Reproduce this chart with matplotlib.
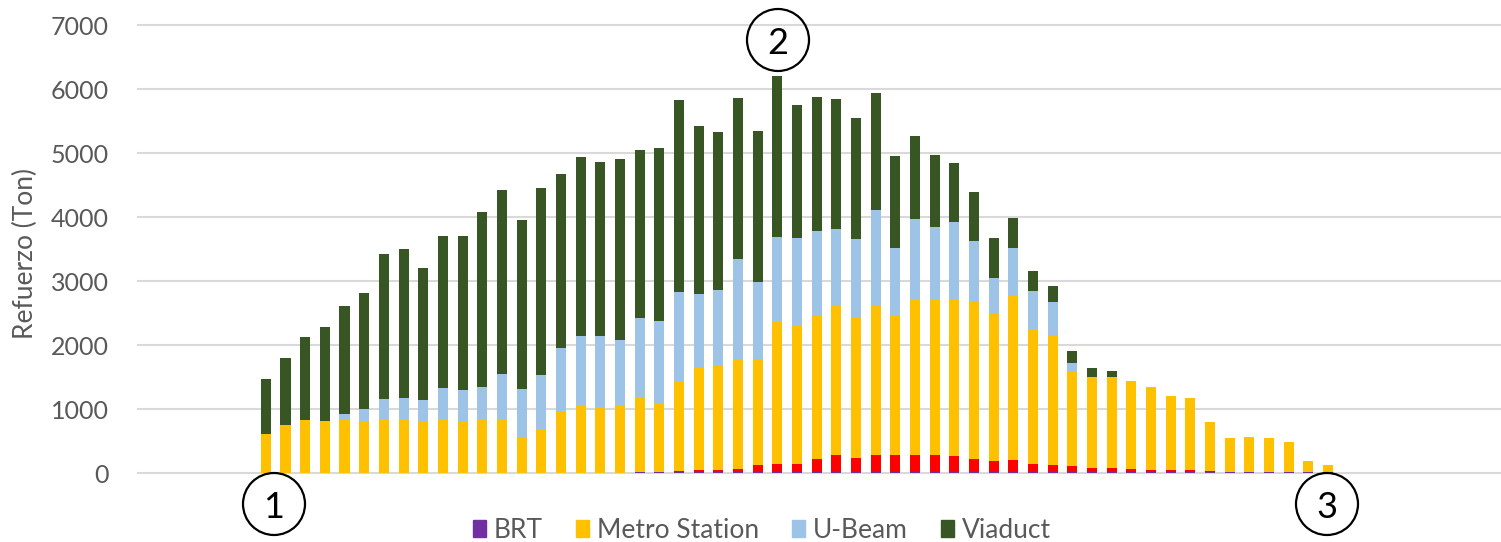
import numpy as np
import matplotlib
matplotlib.use("Agg")
import matplotlib.pyplot as plt
import matplotlib.patches as mpatches

plt.rcParams["font.family"] = ["Lato", "DejaVu Sans"]

# 70 category slots on the axis, bars occupy slots 6..60
N_SLOTS = 70
FIRST_SLOT = 6

brt = [0] * 19 + [15] * 36

other = [0, 0, 0, 0, 0, 0, 0, 0, 0, 0, 0, 0, 0, 0, 0, 0, 0, 0, 0, 0, 0,
         26, 41, 41, 52, 115, 135, 135, 214, 276, 224, 276, 266, 276, 266, 251,
         203, 183, 188, 125, 110, 100, 73, 73, 52, 37, 37, 37, 21, 5, 0, 0, 0, 0, 0]

metro = [620, 755, 840, 810, 840, 810, 840, 840, 810, 840, 810, 840, 840, 565, 670,
         975, 1065, 1035, 1065, 1175, 1075, 1400, 1585, 1635, 1705, 1660, 2220, 2165,
         2235, 2330, 2210, 2330, 2175, 2415, 2425, 2455, 2470, 2295, 2580, 2115, 2030,
         1475, 1420, 1420, 1375, 1290, 1155, 1120, 760, 530, 550, 535, 470, 180, 110]

ubeam = [0, 0, 0, 0, 85, 195, 320, 335, 330, 495, 490, 515, 705, 760, 860,
         985, 1075, 1105, 1025, 1240, 1290, 1385, 1165, 1175, 1580, 1200, 1315, 1360,
         1325, 1195, 1210, 1500, 1060, 1275, 1150, 1205, 945, 555, 740, 595, 520,
         140, 0, 0, 0, 0, 0, 0, 0, 0, 0, 0, 0, 0, 0]

viaduct = [860, 1050, 1290, 1480, 1685, 1815, 2260, 2330, 2060, 2380, 2400, 2720, 2875,
           2630, 2930, 2710, 2805, 2725, 2820, 2625, 2710, 3000, 2615, 2470, 2505, 2360,
           2525, 2080, 2090, 2040, 1900, 1815, 1435, 1290, 1125, 920, 770, 635, 460,
           305, 255, 175, 130, 95, 0, 0, 0, 0, 0, 0, 0, 0, 0, 0, 0]

yticks = [0, 1000, 2000, 3000, 4000, 5000, 6000, 7000]

COLORS = {
    "BRT": "#7030A0",
    "other": "#FF0000",
    "Metro Station": "#FFC000",
    "U-Beam": "#9DC3E6",
    "Viaduct": "#375623",
}
TEXT = "#595959"

W, H = 1501, 542
fig = plt.figure(figsize=(W / 100, H / 100), dpi=100)
ax = fig.add_axes([138 / W, 68.7 / H, 1363 / W, 448 / H])

x = np.arange(FIRST_SLOT, FIRST_SLOT + len(metro))
bottom = np.zeros(len(x))
series = [("BRT", brt), ("other", other), ("Metro Station", metro),
          ("U-Beam", ubeam), ("Viaduct", viaduct)]
for name, vals in series:
    vals = np.array(vals, dtype=float)
    ax.bar(x, vals, width=0.51, bottom=bottom, color=COLORS[name],
           label=None if name == "other" else name, zorder=3)
    bottom += vals

ax.set_xlim(-0.5, N_SLOTS - 1.2)
ax.set_ylim(0, 7000)
ax.set_yticks(yticks)
ax.set_yticklabels([str(v) for v in yticks], fontsize=18, color=TEXT)
ax.set_xticks([])
ax.tick_params(axis="y", length=0, pad=21)
for s in ax.spines.values():
    s.set_visible(False)
ax.grid(axis="y", color="#D9D9D9", linewidth=1.5, zorder=0)
for gl in ax.get_ygridlines():
    gl.set_clip_on(False)
ax.set_ylabel("Refuerzo (Ton)", fontsize=19, color=TEXT)
ax.yaxis.set_label_coords((38 - 138) / 1363, 0.49)

handles = [mpatches.Patch(color=COLORS[k], label=k)
           for k in ["BRT", "Metro Station", "U-Beam", "Viaduct"]]
fig.legend(handles=handles, loc="center", bbox_to_anchor=(762 / W, 1 - 530 / H),
           ncol=4, frameon=False, fontsize=19, labelcolor=TEXT,
           handlelength=0.5, handleheight=0.6, handletextpad=0.3, columnspacing=1.25)

# numbered circle markers
for label, cx, cy in [("1", 274, 504), ("2", 778, 40), ("3", 1327, 504)]:
    fig.add_artist(mpatches.Ellipse((cx / W, 1 - cy / H), 62 / W, 62 / H,
                                    transform=fig.transFigure, fill=False,
                                    edgecolor="black", linewidth=1.6))
    fig.text(cx / W, 1 - cy / H, label, ha="center", va="center_baseline",
             fontsize=26, color="black")

fig.savefig("out.png", dpi=100)
